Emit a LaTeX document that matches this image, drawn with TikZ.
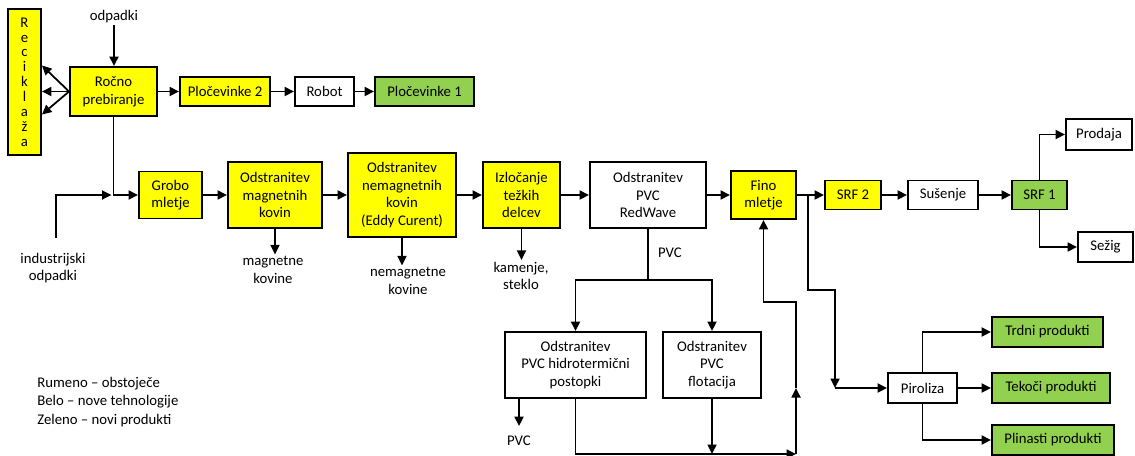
\documentclass[tikz,border=0pt]{standalone}
\usepackage{fontspec}
\setmainfont{Carlito}
\usetikzlibrary{arrows.meta,calc}
\definecolor{rumena}{HTML}{FFFF00}
\definecolor{zelena}{HTML}{92D050}
\tikzset{
	box/.style={draw, line width=1.1pt, fill=white, align=center, inner sep=1pt, font=\fontsize{8.4}{10}\selectfont},
	rumen/.style={fill=rumena},
	zelen/.style={fill=zelena},
	wh/.style 2 args={minimum width=#1*0.02cm, minimum height=#2*0.02cm},
	oznaka/.style={align=center, inner sep=1pt, font=\fontsize{8.4}{10}\selectfont},
	arr/.style={line width=1pt, -{Triangle[length=1.9mm,width=1.8mm]}},
	crta/.style={line width=1pt}
}

\begin{document}
\begin{tikzpicture}[x=0.02cm, y=-0.02cm]
			%%%%% START %%%%%
			\useasboundingbox (0,0) rectangle (1135,456);
			
			% zgornja vrsta
			\node[box, rumen, wh={33}{146}, font=\fontsize{8.4}{8.45}\selectfont] (rec) at (24.5,82) {R\\e\\c\\i\\k\\l\\a\\ž\\a};
			\node[oznaka] (odp) at (114,17) {odpadki};
			\node[box, rumen, wh={87}{49}] (rocno) at (113.5,91.5) {Ročno\\prebiranje};
			\node[box, rumen, wh={90}{29}] (ploc2) at (225,91.5) {Pločevinke 2};
			\node[box, wh={59}{29}] (robot) at (324.5,91.5) {Robot};
			\node[box, zelen, wh={99}{29}] (ploc1) at (424.5,91.5) {Pločevinke 1};
			
			% glavna vrsta
			\node[box, rumen, wh={63}{47}] (grobo) at (170.5,195) {Grobo\\mletje};
			\node[box, rumen, wh={94}{66}] (magn) at (275,195) {Odstranitev\\magnetnih\\kovin};
			\node[box, rumen, wh={108}{84}] (nemagn) at (402,195) {Odstranitev\\nemagnetnih\\kovin\\(Eddy Curent)};
			\node[box, rumen, wh={77}{66}] (tezki) at (521.5,195) {Izločanje\\težkih\\delcev};
			\node[box, wh={116}{66}] (redwave) at (648,195) {Odstranitev\\PVC\\RedWave};
			\node[box, rumen, wh={65}{48}] (fino) at (763.5,195) {Fino\\mletje};
			\node[box, rumen, wh={56}{29}] (srf2) at (853,195) {SRF 2};
			\node[box, wh={70}{29}] (susenje) at (943,195) {Sušenje};
			\node[box, zelen, wh={55}{29}] (srf1) at (1039.5,195) {SRF 1};
			\node[box, wh={66}{31}] (prodaja) at (1099,134.5) {Prodaja};
			\node[box, wh={55}{30}] (sezig) at (1105.5,247) {Sežig};
			
			% izhodi
			\node[oznaka] (ind) at (53,268) {industrijski\\odpadki};
			\node[oznaka] (magnl) at (273,270) {magnetne\\kovine};
			\node[oznaka] (nemagnl) at (408,281) {nemagnetne\\kovine};
			\node[oznaka] (kam) at (521,276) {kamenje,\\steklo};
			\node[oznaka] (pvc1) at (670,253) {PVC};
			\node[oznaka] (pvc2) at (519,441) {PVC};
			
			% PVC veja
			\node[box, wh={141}{66}] (hidro) at (575.5,365) {Odstranitev\\PVC hidrotermični\\postopki};
			\node[box, wh={98}{66}] (flot) at (712,365) {Odstranitev\\PVC\\flotacija};
			
			% piroliza
			\node[box, wh={69}{30}] (piro) at (922.5,388) {Piroliza};
			\node[box, zelen, wh={111}{30}] (trdni) at (1047.5,332) {Trdni produkti};
			\node[box, zelen, wh={118}{30}] (tekoci) at (1051,388) {Tekoči produkti};
			\node[box, zelen, wh={122}{30}] (plin) at (1053,440) {Plinasti produkti};
			
			% legenda
			\node[oznaka, align=left, anchor=west, inner sep=0pt, font=\fontsize{8.4}{10.5}\selectfont] (leg) at (37,402) {Rumeno -- obstoječe\\Belo -- nove tehnologije\\Zeleno -- novi produkti};
			
			% tocke
			\coordinate (indz) at (56,238);
			\coordinate (j1) at (rocno.south |- grobo.west);
			\coordinate (split) at (648,280);
			\coordinate (loopa) at (796,454);
			\coordinate (loopm) at (796,388);
			\coordinate (loopb) at (796,302);
			\coordinate (fb) at (808,195);
			\coordinate (pa) at (835,290);
			\coordinate (pb) at (835,388);
			
			% povezave zgoraj
			\draw[arr] (odp.south) -- (odp.south |- rocno.north);
			\draw[arr] (rocno.west) -- (rec.east |- rocno.west);
			\draw[arr] (rocno.west) -- ($(rec.east |- rocno.west)+(0,-26)$);
			\draw[arr] (rocno.west) -- ($(rec.east |- rocno.west)+(0,23)$);
			\draw[arr] (rocno) -- (ploc2);
			\draw[arr] (ploc2) -- (robot);
			\draw[arr] (robot) -- (ploc1);
			
			% povezave glavna vrsta
			\draw[arr] (rocno.south) |- (grobo.west);
			\draw[arr] (indz) |- ($(j1)+(-2,0)$);
			\draw[arr] (grobo) -- (magn);
			\draw[arr] (magn) -- (nemagn);
			\draw[arr] (nemagn) -- (tezki);
			\draw[arr] (tezki) -- (redwave);
			\draw[arr] (redwave) -- (fino);
			\draw[arr] (fino) -- (srf2);
			\draw[arr] (srf2) -- (susenje);
			\draw[arr] (susenje) -- (srf1);
			\draw[arr] (srf1.north) |- (prodaja.west);
			\draw[arr] (srf1.south) |- (sezig.west);
			
			\draw[arr] (magn.south) -- (magnl.north -| magn.south);
			\draw[arr] (nemagn.south) -- (nemagnl.north -| nemagn.south);
			\draw[arr] (tezki.south) -- (kam.north -| tezki.south);
			
			% PVC
			\draw[crta] (redwave.south) -- (split);
			\draw[arr] (split) -| (hidro.north);
			\draw[arr] (split) -| (flot.north);
			\draw[arr] (hidro.south -| pvc2) -- ($(pvc2.north)+(0,-8)$);
			\draw[arr] (hidro.south) |- (loopa);
			\draw[arr] (flot.south) -- (flot.south |- loopa);
			\draw[arr] (loopa) -- (loopm);
			\draw[arr] (loopm) -- (loopb) -| (fino.south);
			
			% piroliza
			\draw[arr] (fb) |- (pa) -- (pb);
			\draw[arr] (pb) -- (piro.west);
			\draw[arr] (piro.north) |- (trdni.west);
			\draw[arr] (piro) -- (tekoci);
			\draw[arr] (piro.south) |- (plin.west);
			
			%%%%% END %%%%%
\end{tikzpicture}
\end{document}
